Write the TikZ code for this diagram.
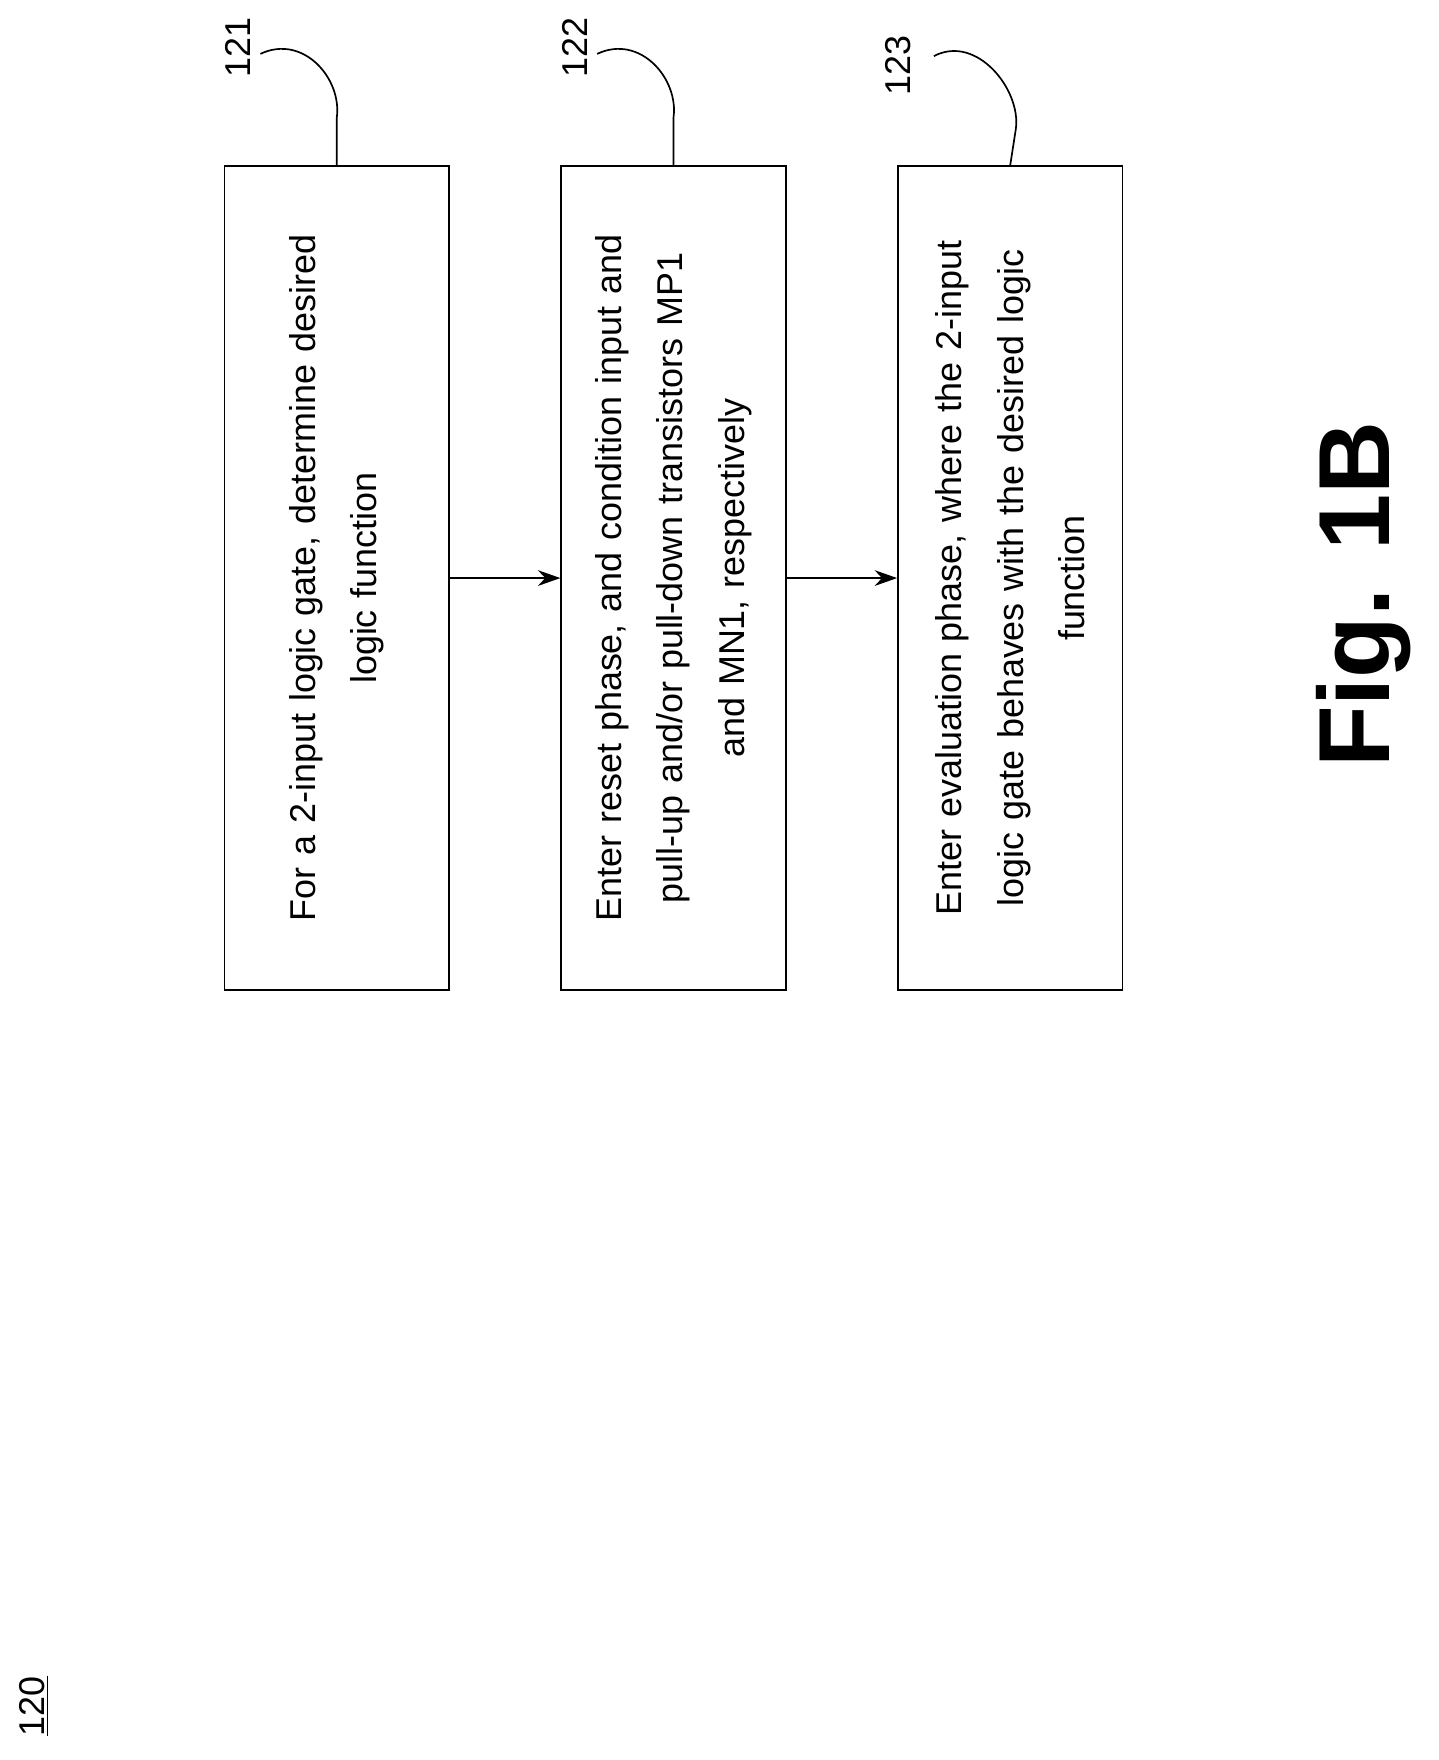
\documentclass[tikz,border=0pt]{standalone}
\usepackage{fontspec}
\setmainfont{Liberation Sans}
\usetikzlibrary{arrows.meta}
\begin{document}
\begin{tikzpicture}[x=1pt,y=-1pt,
  stepbox/.style={draw,line width=1.5pt,rotate=90,minimum width=734pt,minimum height=200pt,inner sep=0pt,align=center,text width=690pt,font=\fontsize{32}{55}\selectfont},
  lbl/.style={rotate=90,font=\fontsize{32}{38}\selectfont},
  arr/.style={line width=1.5pt,-{Stealth[length=20pt,width=14pt]}},
  sq/.style={line width=1.5pt}]
\useasboundingbox (0,0) rectangle (1282,1568);
\node[stepbox] (b1) at (300,515) {For a 2-input logic gate, determine desired\\logic function};
\node[stepbox] (b2) at (600,515) {Enter reset phase, and condition input and\\pull-up and/or pull-down transistors MP1\\and MN1, respectively};
\node[stepbox] (b3) at (900,515) {Enter evaluation phase, where the 2-input\\logic gate behaves with the desired logic\\function};
\draw[arr] (b1.south) -- (b2.north);
\draw[arr] (b2.south) -- (b3.north);
\node[lbl] (l1) at (212,42) {121};
\node[lbl] (l2) at (512,42) {122};
\node[lbl] (l3) at (800,58) {123};
\coordinate (c1) at (232,48);
\coordinate (c2) at (532,48);
\coordinate (c3) at (832,50);
\draw[sq] (c1) .. controls (270,30) and (305,70) .. (300,105) -- (b1.east);
\draw[sq] (c2) .. controls (570,30) and (605,70) .. (600,105) -- (b2.east);
\draw[sq] (c3) .. controls (870,30) and (910,80) .. (905,115) -- (b3.east);
\node[lbl] (n120) at (30,1520) {\underline{120}};
\node[rotate=90,font=\fontsize{90}{100}\selectfont\bfseries] (fig) at (1215,530) {Fig. 1B};
\end{tikzpicture}
\end{document}
